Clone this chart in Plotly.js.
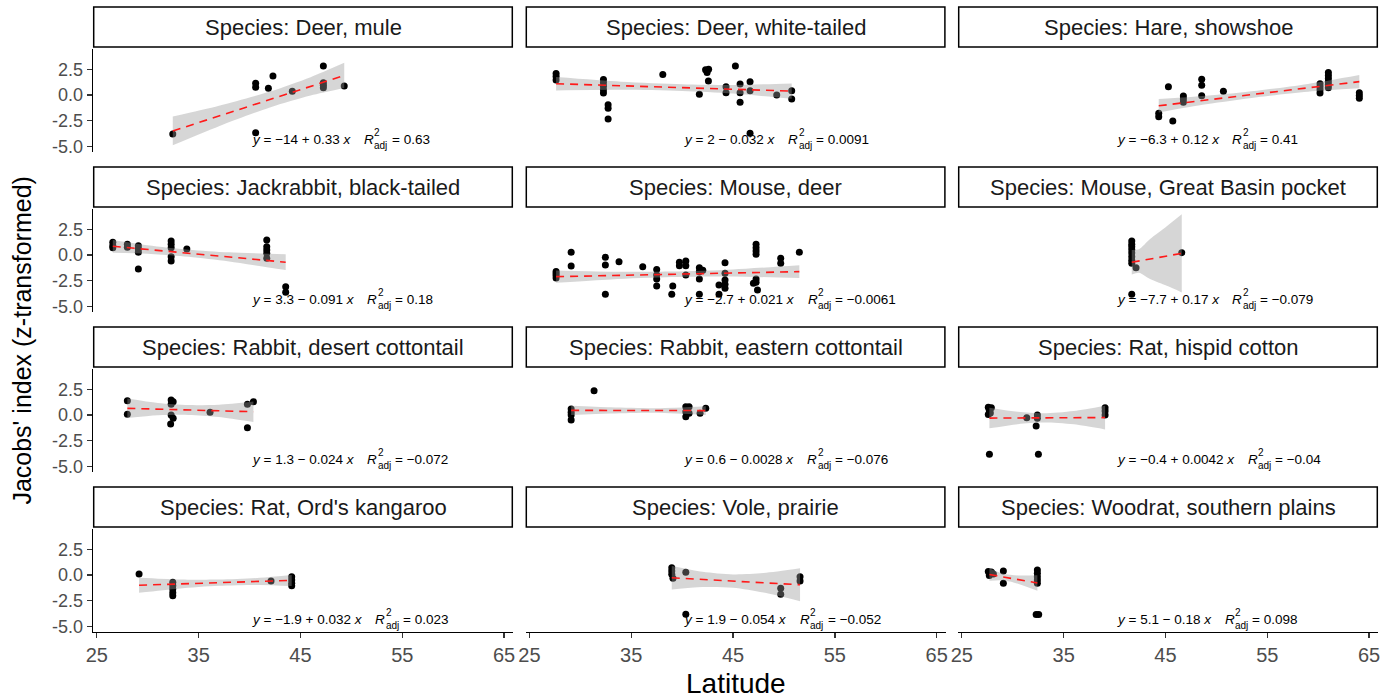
<!DOCTYPE html>
<html><head><meta charset="utf-8">
<script src="https://cdn.plot.ly/plotly-3.0.1.min.js"></script>
<style>html,body{margin:0;padding:0;background:#fff;}#chart{width:1397px;height:700px;}</style>
</head><body><div id="chart"></div>
<script>
// ---------- data ----------
const species = ["Deer, mule","Deer, white-tailed","Hare, showshoe","Jackrabbit, black-tailed","Mouse, deer","Mouse, Great Basin pocket","Rabbit, desert cottontail","Rabbit, eastern cottontail","Rat, hispid cotton","Rat, Ord's kangaroo","Vole, prairie","Woodrat, southern plains"];

const muleLat = [32.46,40.6,40.6,40.6,41.85,42.3,44.2,47.25,47.25,47.25,47.25,49.3];
const muleJ   = [-3.80,1.14,0.75,-3.67,0.65,1.85,0.36,2.82,1.2,0.95,0.7,0.88];
const whiteLat = [27.62,27.62,27.62,32.27,32.27,32.27,32.27,32.27,32.73,32.73,32.73,38.1,41.69,42.3,42.6,42.45,42.58,44.31,44.31,45.23,45.69,45.69,45.69,46.67,46.67,46.67,49.29,50.76,50.76];
const whiteJ   = [2.1,1.8,1.45,1.5,1.2,0.85,0.5,0.2,-0.95,-1.3,-2.34,2.0,0.07,2.45,2.5,2.2,1.36,0.81,0.22,2.82,1.07,0.23,-0.71,1.3,0.42,-3.73,0.0,0.42,-0.39];
const hareLat = [44.34,44.34,45.29,45.72,46.76,46.76,46.76,48.56,48.56,48.56,50.69,60.18,60.18,60.18,60.18,61.0,61.0,61.0,61.0,61.0,61.0,64.04,64.04,64.04];
const hareJ   = [-1.78,-2.11,0.81,-2.53,-0.1,-0.4,-0.7,1.53,0.95,-0.07,0.36,1.1,0.8,0.5,0.2,2.2,1.9,1.6,1.3,1.0,0.7,0.22,-0.05,-0.32];
const jackLat = [26.57,26.57,26.57,28.0,28.0,29.08,29.08,29.08,29.08,32.3,32.3,32.3,32.3,32.3,33.84,41.69,41.69,41.69,41.69,41.69,43.55,43.55];
const jackJ   = [1.24,0.9,0.71,1.04,0.75,0.9,0.58,0.26,-1.36,1.36,1.04,0.71,-0.17,-0.58,0.58,1.46,0.81,0.49,0.17,-0.32,-3.09,-3.63];
const mouseDeerLat = [27.62,27.62,27.62,27.62,29.1,29.1,32.46,32.46,32.46,33.8,36.13,37.5,37.5,37.5,37.5,38.98,39.08,39.73,39.73,40.36,40.36,40.36,41.69,41.69,41.69,41.69,42.03,43.62,43.62,44.21,44.21,44.21,44.21,44.21,47.26,47.26,47.26,47.26,47.26,47.26,47.0,47.4,49.68,49.68,51.51];
const mouseDeerJ   = [-1.6,-1.8,-2.0,-2.25,0.26,-1.07,-0.23,-0.97,-3.83,-0.65,-1.14,-1.4,-1.95,-2.34,-3.02,-3.83,-3.02,-0.71,-1.04,-0.58,-1.04,-1.95,-1.24,-1.62,-2.34,-3.83,-1.49,-2.92,-3.83,-0.75,-1.78,-2.43,-2.85,-3.24,1.04,0.71,0.39,0.07,-2.34,-2.66,-2.76,-3.41,-0.32,-0.81,0.26];
const pocketLat = [41.69,41.69,41.69,41.69,41.69,41.69,41.69,41.69,42.11,41.69,46.6];
const pocketJ   = [1.36,1.05,0.81,0.5,0.2,-0.17,-0.5,-0.81,-1.24,-3.83,0.23];
const desertLat = [28.0,28.0,32.3,32.5,32.3,32.3,32.5,32.25,36.12,39.79,40.38,39.79];
const desertJ   = [1.39,0.07,1.46,1.3,1.04,0.0,-0.32,-0.88,0.26,1.04,1.3,-1.23];
const easternLat = [29.1,29.1,29.1,29.1,31.35,40.36,40.36,40.36,40.68,40.68,41.76,42.32];
const easternJ   = [0.58,0.26,0.0,-0.49,2.37,0.81,0.32,-0.17,0.81,0.17,0.16,0.65];
const hispidLat = [27.6,27.9,27.7,27.8,27.6,27.71,31.38,32.42,32.42,32.3,32.52,39.07,39.07,39.07];
const hispidJ   = [0.75,0.7,0.45,0.2,0.05,-3.83,-0.26,0.0,-0.32,-1.07,-3.83,0.71,0.39,0.0];
const ordLat = [29.15,32.46,32.46,32.46,32.46,32.46,42.11,44.14,44.14,44.14,44.14];
const ordJ   = [0.1,-0.71,-1.04,-1.36,-1.72,-2.01,-0.58,-0.17,-0.49,-0.81,-1.04];
const voleLat = [38.98,38.98,38.98,39.1,40.36,40.36,49.68,49.68,51.58,51.58];
const voleJ   = [0.71,0.39,0.07,-0.32,0.26,-3.83,-1.3,-1.88,-0.17,-0.58];
const woodratLat = [27.6,27.9,28.1,27.7,29.08,29.08,32.42,32.42,32.42,32.42,32.42,32.3,32.55];
const woodratJ   = [0.35,0.3,0.1,-0.05,0.39,-0.81,0.49,0.16,-0.16,-0.49,-0.81,-3.85,-3.85];

// fitted line ends
const fitLat = [[32.46,49.3],[27.62,50.76],[44.34,64.04],[26.57,43.55],[27.62,51.51],[41.69,46.6],[28.0,40.38],[29.1,42.32],[27.71,39.07],[29.15,44.14],[38.98,51.58],[27.71,32.42]];
const fitJ   = [[-3.5,1.9],[1.1,0.38],[-1.05,1.3],[0.85,-0.7],[-2.11,-1.62],[-0.71,0.16],[0.65,0.32],[0.45,0.43],[-0.3,-0.25],[-1.0,-0.52],[-0.27,-0.95],[0.05,-0.78]];
// confidence band
const bandLat = [[32.46,37,42,46,49.3],[27.62,34,40,45,50.76],[44.34,49,54,59,64.04],[26.57,30,34,38,43.55],[27.62,33,39,45,51.51],[41.69,42.4,43.49,45.13,46.6],[28,31,34,37,40.38],[29.1,33,37.5,42.32],[27.71,30.5,33,36,39.07],[29.15,33,37,41,44.14],[38.98,42,45,48,51.58],[27.71,29,30.5,32.42]];
const bandLo = [[-4.9,-3.04,-1.22,-0.06,0.67],[0.45,0.5,0.39,0.14,-0.37],[-1.7,-0.91,-0.22,0.32,0.65],[0.23,0.12,-0.18,-0.64,-1.47],[-2.71,-2.38,-2.15,-2.10,-2.25],[-1.91,-1.73,-2.34,-3.0,-3.64],[-0.3,-0.03,0.01,-0.19,-0.68],[0.0,0.15,0.22,0.01],[-1.3,-0.89,-0.73,-0.91,-1.4],[-1.73,-1.33,-1.05,-0.97,-1.08],[-1.42,-1.18,-1.24,-1.71,-2.55],[-0.55,-0.51,-0.84,-1.53]];
const bandHi = [[-2.1,-1.04,0.34,1.74,3.13],[1.75,1.3,1.05,0.98,1.13],[-0.4,-0.07,0.42,1.08,1.95],[1.47,0.96,0.52,0.26,0.07],[-1.51,-1.62,-1.61,-1.40,-0.99],[0.49,0.57,1.56,2.8,3.96],[1.6,1.17,0.97,1.01,1.32],[0.9,0.75,0.66,0.85],[0.7,0.31,0.17,0.39,0.9],[-0.27,-0.43,-0.45,-0.27,0.0],[0.88,0.32,0.06,0.19,0.65],[0.65,0.15,-0.04,-0.03]];
const eqFit = ["−14 + 0.33","2 − 0.032","−6.3 + 0.12","3.3 − 0.091","−2.7 + 0.021","−7.7 + 0.17","1.3 − 0.024","0.6 − 0.0028","−0.4 + 0.0042","−1.9 + 0.032","1.9 − 0.054","5.1 − 0.18"];
const eqR2 = ["0.63","0.0091","0.41","0.18","−0.0061","−0.079","−0.072","−0.076","−0.04","0.023","−0.052","0.098"];
const xTicks = [25,35,45,55,65];
const yTicks = [-5,-2.5,0,2.5];
const yTickText = ["-5.0","-2.5","0.0","2.5"];

const ptLat = [muleLat,whiteLat,hareLat,jackLat,mouseDeerLat,pocketLat,desertLat,easternLat,hispidLat,ordLat,voleLat,woodratLat];
const ptJ = [muleJ,whiteJ,hareJ,jackJ,mouseDeerJ,pocketJ,desertJ,easternJ,hispidJ,ordJ,voleJ,woodratJ];

// ---------- layout ----------
const W = 1397, H = 700;
const FONT = '"Liberation Sans", Arial, sans-serif';
const colLeft = [93, 525.6, 958], colW = 420;
const rowTop = [49.4, 209.4, 369.4, 529.4], rowH = 102.4;
const xRange = [24.625, 65.875], yRange = [-5.53, 4.44];

const cv = document.createElement('canvas').getContext('2d');
function tw(t, size, italic) { cv.font = (italic ? 'italic ' : '') + size + 'px "Liberation Sans", Arial'; return cv.measureText(t).width; }

const traces = [], shapes = [], annotations = [];
const layout = {width: W, height: H, margin: {l:0,r:0,t:0,b:0,pad:0}, showlegend: false,
  paper_bgcolor: '#fff', plot_bgcolor: 'rgba(0,0,0,0)', font: {family: FONT}};

const EQ = 13.5, SUB = 10;
for (let i = 0; i < 12; i++) {
  const r = Math.floor(i / 3), c = i % 3;
  const id = i === 0 ? '' : String(i + 1);
  const xa = 'x' + id, ya = 'y' + id;
  layout['xaxis' + id] = {domain: [colLeft[c] / W, (colLeft[c] + colW) / W], range: xRange, anchor: ya,
    showgrid: false, zeroline: false, showline: r === 3, linecolor: '#000', linewidth: 1.3,
    ticks: r === 3 ? 'outside' : '', ticklen: 5, tickwidth: 1.3, tickcolor: '#333',
    tickvals: xTicks, showticklabels: r === 3, tickfont: {size: 20, color: '#4d4d4d', family: FONT}, fixedrange: true};
  layout['yaxis' + id] = {domain: [1 - (rowTop[r] + rowH) / H, 1 - rowTop[r] / H], range: yRange, anchor: xa,
    showgrid: false, zeroline: false, showline: c === 0, linecolor: '#000', linewidth: 1.3,
    ticks: c === 0 ? 'outside' : '', ticklen: 5, tickwidth: 1.3, tickcolor: '#333',
    tickvals: yTicks, ticktext: yTickText, showticklabels: c === 0, tickfont: {size: 18, color: '#4d4d4d', family: FONT}, fixedrange: true};

  traces.push({type: 'scatter', mode: 'markers', x: ptLat[i], y: ptJ[i], xaxis: xa, yaxis: ya,
    marker: {color: '#000', size: 7, line: {width: 0}}, hoverinfo: 'skip'});
  traces.push({type: 'scatter', mode: 'lines', x: bandLat[i], y: bandLo[i], xaxis: xa, yaxis: ya,
    line: {width: 0, shape: 'spline', smoothing: 0.8}, hoverinfo: 'skip'});
  traces.push({type: 'scatter', mode: 'lines', x: bandLat[i], y: bandHi[i], xaxis: xa, yaxis: ya,
    fill: 'tonexty', fillcolor: 'rgba(153,153,153,0.4)', line: {width: 0, shape: 'spline', smoothing: 0.8}, hoverinfo: 'skip'});
  traces.push({type: 'scatter', mode: 'lines', x: fitLat[i], y: fitJ[i], xaxis: xa, yaxis: ya,
    line: {color: '#ff1a1a', width: 1.6, dash: '8px,6px'}, hoverinfo: 'skip'});

  // strip
  const sTop = rowTop[r] - 42.4, sBot = rowTop[r] - 2.4;
  shapes.push({type: 'rect', xref: 'paper', yref: 'paper', x0: (colLeft[c] + 0.7) / W, x1: (colLeft[c] + colW - 0.7) / W,
    y0: 1 - sBot / H, y1: 1 - sTop / H, line: {color: '#000', width: 1.5}, fillcolor: '#fff', layer: 'below'});
  annotations.push({xref: 'paper', yref: 'paper', x: (colLeft[c] + colW / 2) / W, y: 1 - (sTop + sBot) / 2 / H,
    xanchor: 'center', yanchor: 'middle', showarrow: false, text: 'Species: ' + species[i],
    font: {size: 22, color: '#1a1a1a', family: FONT}});

  // equation label
  const eqY = -4.3;
  const w1 = tw('y', EQ, true) + tw(' = ' + eqFit[i] + ' ', EQ) + tw('x', EQ, true);
  const xR = w1 + 15;
  const xSup = xR + tw('R', EQ, true) + 1;
  const xEq = xSup + Math.max(tw('2', SUB), tw('adj', SUB)) + tw(' ', EQ);
  const base = {xref: xa, yref: ya, x: 40, y: eqY, xanchor: 'left', yanchor: 'middle', showarrow: false};
  annotations.push(Object.assign({}, base, {text: '<i>y</i> = ' + eqFit[i] + ' <i>x</i>', font: {size: EQ, color: '#000', family: FONT}}));
  annotations.push(Object.assign({}, base, {xshift: xR, text: '<i>R</i>', font: {size: EQ, color: '#000', family: FONT}}));
  annotations.push(Object.assign({}, base, {xshift: xSup, yshift: 7, text: '2', font: {size: SUB, color: '#000', family: FONT}}));
  annotations.push(Object.assign({}, base, {xshift: xSup, yshift: -6, text: 'adj', font: {size: SUB, color: '#000', family: FONT}}));
  annotations.push(Object.assign({}, base, {xshift: xEq, text: '= ' + eqR2[i], font: {size: EQ, color: '#000', family: FONT}}));
}

annotations.push({xref: 'paper', yref: 'paper', x: 735.5 / W, y: 1 - 683 / H, xanchor: 'center', yanchor: 'middle',
  showarrow: false, text: 'Latitude', font: {size: 28, color: '#000', family: FONT}});
annotations.push({xref: 'paper', yref: 'paper', x: 22 / W, y: 1 - 340.6 / H, xanchor: 'center', yanchor: 'middle',
  showarrow: false, textangle: -90, text: "Jacobs' index (z-transformed)", font: {size: 25, color: '#000', family: FONT}});

layout.shapes = shapes;
layout.annotations = annotations;
Plotly.newPlot('chart', traces, layout, {displayModeBar: false, staticPlot: true});
</script></body></html>
